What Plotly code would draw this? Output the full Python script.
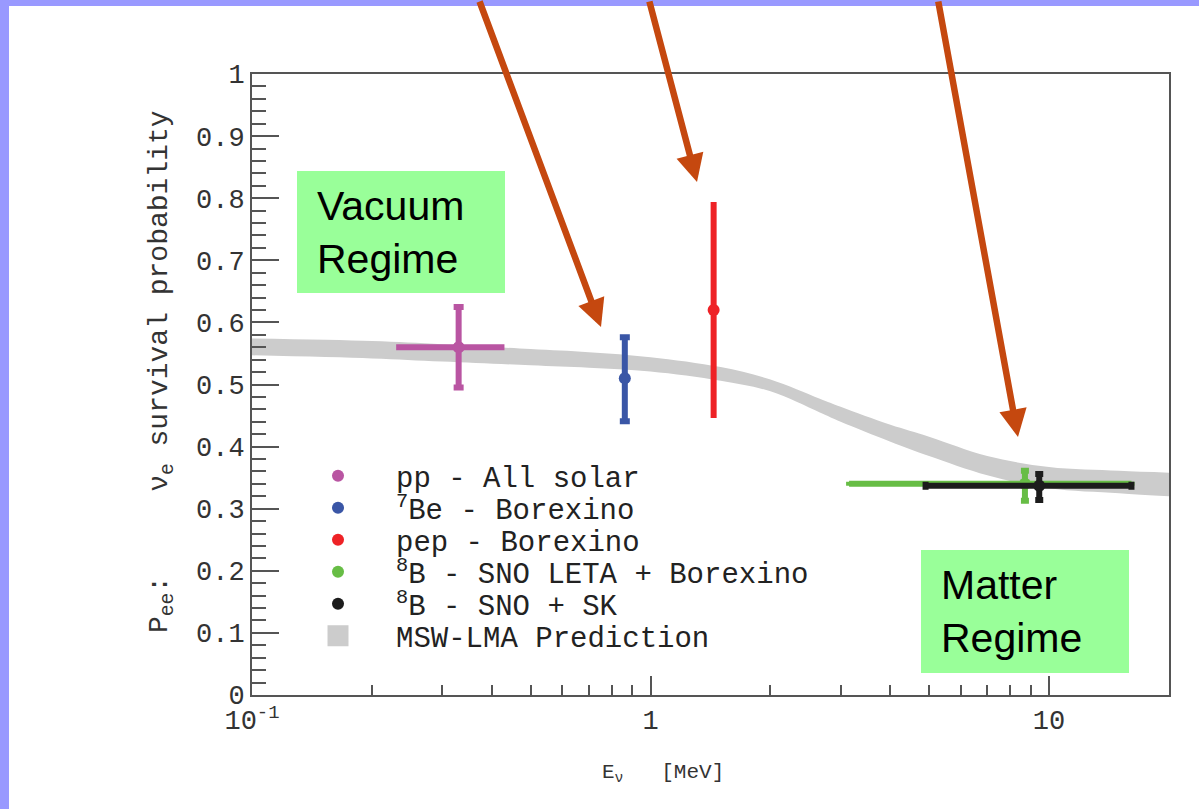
import plotly.graph_objects as go

# ---- measured survival probabilities ----
labels = ["pp - All solar", "<sup>7</sup>Be - Borexino", "pep - Borexino",
          "<sup>8</sup>B - SNO LETA + Borexino", "<sup>8</sup>B - SNO + SK"]
colors = ["#B955A2", "#3A56A6", "#EE2226", "#67BD45", "#1C1C1C"]
energy = [0.33, 0.862, 1.44, 8.7, 9.45]            # MeV
pee = [0.56, 0.51, 0.62, 0.34, 0.337]
pee_err_hi = [0.065, 0.066, 0.174, 0.021, 0.019]
pee_err_lo = [0.065, 0.069, 0.174, 0.027, 0.023]
e_err_hi = [0.10, 0.0, 0.0, 7.4, 6.65]
e_err_lo = [0.10, 0.0, 0.0, 5.55, 4.55]
ycap = [5, 5, 0, 4, 4]
xcap = [0, 0, 0, 2, 4]

# ---- MSW-LMA prediction band ----
band_e = [0.1, 0.2, 0.3, 0.5, 0.7, 1.0, 1.5, 2.0, 2.66, 3.0, 4.0, 5.0, 7.0, 10.0, 15.0, 20.0]
band_hi = [0.574, 0.570, 0.565, 0.557, 0.552, 0.544, 0.528, 0.508, 0.477, 0.464,
           0.435, 0.416, 0.385, 0.367, 0.361, 0.358]
band_lo = [0.547, 0.542, 0.537, 0.531, 0.527, 0.521, 0.506, 0.489, 0.455, 0.440,
           0.408, 0.385, 0.354, 0.333, 0.325, 0.320]

x_ticks = [0.1, 1, 10]
x_ticktext = ["10<sup>-1</sup>", "1", "10"]
x_minor = [0.2, 0.3, 0.4, 0.5, 0.6, 0.7, 0.8, 0.9, 2, 3, 4, 5, 6, 7, 8, 9]

W, H = 1199, 809
L, R, T, B = 252, 30, 74, 114
PW, PH = W - L - R, H - T - B


def px(x):
    return (x - L) / PW


def py(y):
    return (H - B - y) / PH


MONO = "Liberation Mono"
fig = go.Figure()

# prediction band: lower edge, then upper edge filled down to it
fig.add_trace(go.Scatter(
    x=band_e, y=band_lo, mode="lines", line=dict(width=0, shape="spline"),
    showlegend=False, hoverinfo="skip"))
fig.add_trace(go.Scatter(
    x=band_e, y=band_hi, mode="lines", line=dict(width=0, shape="spline"),
    fill="tonexty", fillcolor="#CCCCCC", showlegend=False, hoverinfo="skip"))

legend_rows = [476, 508, 540, 572, 604, 636]
legend_names = ["legend", "legend2", "legend3", "legend4", "legend5", "legend6"]

for i in range(len(labels)):
    fig.add_trace(go.Scatter(
        x=[energy[i]], y=[pee[i]], mode="markers", name=labels[i],
        legend=legend_names[i],
        marker=dict(color=colors[i], size=12),
        error_y=dict(type="data", symmetric=False, array=[pee_err_hi[i]],
                     arrayminus=[pee_err_lo[i]], color=colors[i],
                     thickness=6, width=ycap[i]),
        error_x=dict(type="data", symmetric=False, array=[e_err_hi[i]],
                     arrayminus=[e_err_lo[i]], color=colors[i],
                     thickness=6, width=xcap[i]),
    ))

# legend entry for the prediction band
fig.add_trace(go.Scatter(
    x=[None], y=[None], mode="markers", name="MSW-LMA Prediction",
    legend=legend_names[5],
    marker=dict(symbol="square", size=16, color="#CCCCCC",
                line=dict(color="#CCCCCC", width=5))))

axis_font = dict(family=MONO, size=27, color="#333333")

fig.update_xaxes(
    type="log", range=[-1, 1.30103], tickmode="array", tickvals=x_ticks,
    ticktext=x_ticktext, ticks="inside", ticklen=19, tickwidth=2,
    tickcolor="#555555", showline=True, linecolor="#555555", linewidth=2,
    mirror=True, showgrid=False, zeroline=False, tickfont=axis_font,
    minor=dict(tickmode="array", tickvals=x_minor, ticks="inside",
               ticklen=10, tickwidth=2, tickcolor="#555555", showgrid=False))

fig.update_yaxes(
    range=[0, 1], dtick=0.1, tick0=0, ticks="inside", ticklen=27, tickwidth=2,
    tickcolor="#555555", showline=True, linecolor="#555555", linewidth=2,
    mirror=True, showgrid=False, zeroline=False, tickfont=axis_font,
    minor=dict(dtick=0.02, ticks="inside", ticklen=14, tickwidth=2,
               tickcolor="#555555", showgrid=False))

shapes = [
    # slide frame strips
    dict(type="rect", xref="paper", yref="paper", x0=px(-20), x1=px(9),
         y0=py(H + 20), y1=py(-20), fillcolor="#9999FF", line_width=0, layer="below"),
    dict(type="rect", xref="paper", yref="paper", x0=px(-20), x1=px(W + 20),
         y0=py(6), y1=py(-20), fillcolor="#9999FF", line_width=0, layer="below"),
    # regime boxes
    dict(type="rect", xref="paper", yref="paper", x0=px(297), x1=px(505),
         y0=py(293), y1=py(171), fillcolor="#99FF99", line_width=0, layer="above"),
    dict(type="rect", xref="paper", yref="paper", x0=px(921), x1=px(1129),
         y0=py(673), y1=py(550), fillcolor="#99FF99", line_width=0, layer="above"),
]

annotations = [
    dict(text="Vacuum<br>Regime", xref="paper", yref="paper", x=px(315), y=py(232),
         xanchor="left", yanchor="middle", align="left", showarrow=False,
         font=dict(family="Liberation Sans", size=41, color="#000000")),
    dict(text="Matter<br>Regime", xref="paper", yref="paper", x=px(939), y=py(611),
         xanchor="left", yanchor="middle", align="left", showarrow=False,
         font=dict(family="Liberation Sans", size=41, color="#000000")),
    # axis titles
    dict(text="E<sub>ν</sub>   [MeV]", xref="paper", yref="paper", x=px(663), y=py(773),
         xanchor="center", yanchor="middle", showarrow=False,
         font=dict(family=MONO, size=21, color="#333333")),
    dict(text="P<sub>ee</sub>:     ν<sub>e</sub> survival probability",
         xref="paper", yref="paper", x=px(161), y=py(372), textangle=-90,
         xanchor="center", yanchor="middle", showarrow=False,
         font=dict(family=MONO, size=28, color="#333333")),
]

# pointers from the slide header down to the measurements
arrows = [((479, -4), (601, 327)), ((649, -4), (697, 182)), ((938, -4), (1018, 437))]
for (tx, ty), (hx, hy) in arrows:
    annotations.append(dict(
        text="", xref="paper", yref="paper", x=px(hx), y=py(hy),
        axref="pixel", ayref="pixel", ax=tx - hx, ay=ty - hy,
        showarrow=True, arrowhead=2, arrowsize=0.85, arrowwidth=6.5,
        arrowcolor="#C5480F", standoff=0))

legend_style = dict(xanchor="left", yanchor="middle", bgcolor="rgba(0,0,0,0)",
                    itemwidth=106, tracegroupgap=0,
                    font=dict(family=MONO, size=29, color="#222222"))
legends = {name: dict(x=px(280), y=py(row), **legend_style)
           for name, row in zip(legend_names, legend_rows)}

fig.update_layout(
    width=W, height=H, margin=dict(l=L, r=R, t=T, b=B),
    paper_bgcolor="#FFFFFF", plot_bgcolor="#FFFFFF",
    shapes=shapes, annotations=annotations, **legends,
)

fig.write_html("out.html")
